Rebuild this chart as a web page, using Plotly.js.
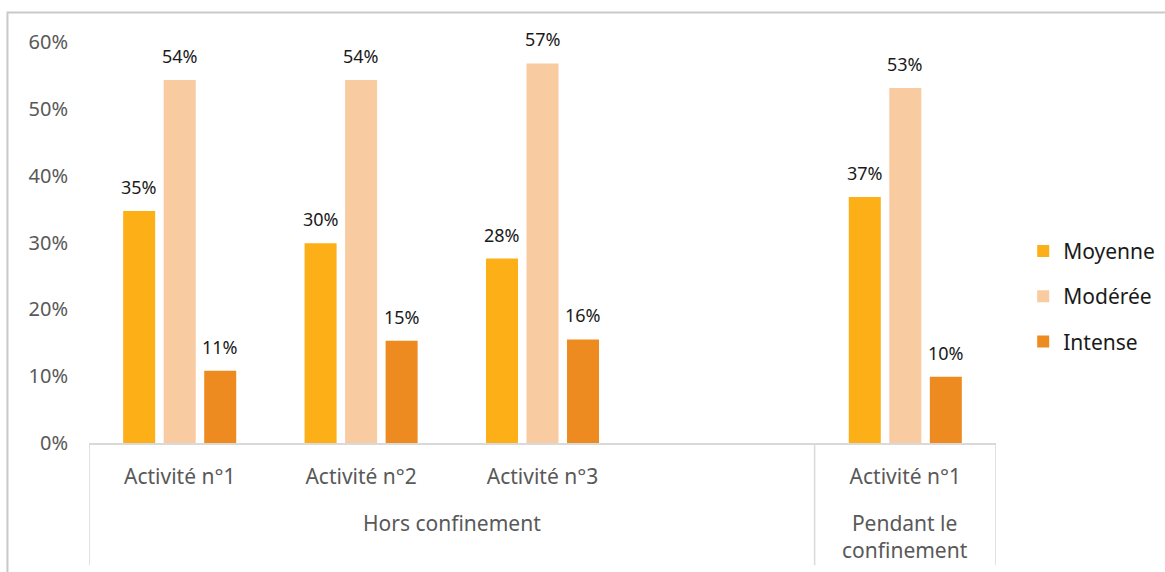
<!DOCTYPE html>
<html>
<head>
<meta charset="utf-8">
<script src="https://cdn.plot.ly/plotly-3.0.1.min.js"></script>
<style>html,body{margin:0;padding:0;background:#fff;}#chart{width:1165px;height:572px;}</style>
</head>
<body>
<div id="chart"></div>
<script>
// ---- data ----
const activities = ["Activité n°1", "Activité n°2", "Activité n°3", "Activité n°1"];
const periods = ["Hors confinement", "Hors confinement", "Hors confinement", "Pendant le confinement"];
const periodLabels = {"Hors confinement": "Hors confinement", "Pendant le confinement": "Pendant le<br>confinement"};
const seriesNames = ["Moyenne", "Modérée", "Intense"];
const moyenne = [0.347, 0.299, 0.276, 0.368];
const moderee = [0.543, 0.543, 0.568, 0.531];
const intense = [0.108, 0.153, 0.155, 0.099];
const yTicks = [0, 0.1, 0.2, 0.3, 0.4, 0.5, 0.6];

// ---- styles ----
const colors = ["#FCAF17", "#F8CBA0", "#EE8B20"];
const FONT = "Noto Sans";
const M = {l: 89, r: 169, t: 42, b: 129, autoexpand: false};
const W = 1165, H = 572;
const bargap = 0.33, bargroupgap = 0.21;

// category keys, with an empty spacer category before each new period
const keys = activities.map((a, i) => periods[i] + "|" + a + "|" + i);
const catArray = [];
const groupSpans = [];
keys.forEach((k, i) => {
  if (i > 0 && periods[i] !== periods[i - 1]) {
    catArray.push("spacer" + i);
  }
  catArray.push(k);
});
const groupStarts = [];
periods.forEach((p, i) => {
  if (i === 0 || p !== periods[i - 1]) groupStarts.push({name: p, idx: catArray.indexOf(keys[i])});
});
groupStarts.forEach((g, j) => {
  const start = g.idx - 0.5;
  const end = j + 1 < groupStarts.length ? groupStarts[j + 1].idx - 0.5 : catArray.length - 0.5;
  groupSpans.push({name: g.name, start: start, end: end});
});

const seriesVals = [moyenne, moderee, intense];
const traces = seriesNames.map((n, s) => ({
  type: "bar",
  name: n,
  x: keys,
  y: seriesVals[s],
  marker: {color: colors[s]},
  legendgroup: "g" + s,
  hoverinfo: "x+y"
}));

// data labels above bars
const plotW = W - M.l - M.r;
const catW = plotW / catArray.length;
const slot = catW * (1 - bargap) / seriesNames.length;
const annotations = [];
seriesVals.forEach((vals, s) => {
  vals.forEach((v, i) => {
    annotations.push({
      xref: "x", yref: "y", x: keys[i], y: v,
      text: Math.round(v * 100) + "%",
      showarrow: false,
      xshift: (s - (seriesNames.length - 1) / 2) * slot,
      yshift: 24,
      yanchor: "middle",
      font: {family: FONT, size: 18, color: "#1a1a1a"}
    });
  });
});
// second-level labels
groupSpans.forEach(g => {
  annotations.push({
    xref: "x", yref: "paper", x: (g.start + g.end) / 2, y: -0.16,
    text: periodLabels[g.name], showarrow: false, yanchor: "top",
    font: {family: FONT, size: 21, color: "#595959"}
  });
});

// dividers of the multi-level axis
const shapes = [];
const divs = [-0.5].concat(groupSpans.map(g => g.end));
divs.forEach(d => {
  shapes.push({type: "line", xref: "x", yref: "paper", x0: d, x1: d, y0: 0, y1: -0.305,
    line: {color: "#d9d9d9", width: 1.5}});
});
// outer chart frame (left & top edges visible)
shapes.push({type: "path", xref: "paper", yref: "paper",
  path: "M -0.0899,-0.4 L -0.0899,1.0736 L 1.25,1.0736",
  line: {color: "#c9c9c9", width: 2}});

const layout = {
  width: W, height: H,
  margin: M,
  paper_bgcolor: "#ffffff", plot_bgcolor: "#ffffff",
  barmode: "group", bargap: bargap, bargroupgap: bargroupgap,
  font: {family: FONT, color: "#595959"},
  showlegend: true,
  legend: {x: 1.03, xanchor: "left", y: 0.366, yanchor: "middle",
    font: {family: FONT, size: 21, color: "#1a1a1a"}, tracegroupgap: 15, bgcolor: "rgba(0,0,0,0)"},
  xaxis: {
    type: "category", categoryorder: "array", categoryarray: catArray,
    range: [-0.5, catArray.length - 0.5],
    tickvals: keys, ticktext: activities,
    showline: true, linecolor: "#d9d9d9", linewidth: 1.5,
    showgrid: false, zeroline: false, ticks: "",
    ticklabelstandoff: 14,
    tickfont: {family: FONT, size: 21, color: "#595959"},
    fixedrange: true
  },
  yaxis: {
    range: [0, 0.6], tickvals: yTicks, tickformat: ".0%",
    showgrid: false, zeroline: false, showline: false, ticks: "",
    ticklabelstandoff: 20,
    tickfont: {family: FONT, size: 20, color: "#595959"},
    fixedrange: true
  },
  annotations: annotations,
  shapes: shapes
};

Plotly.newPlot("chart", traces, layout, {displayModeBar: false, staticPlot: true});
</script>
</body>
</html>
